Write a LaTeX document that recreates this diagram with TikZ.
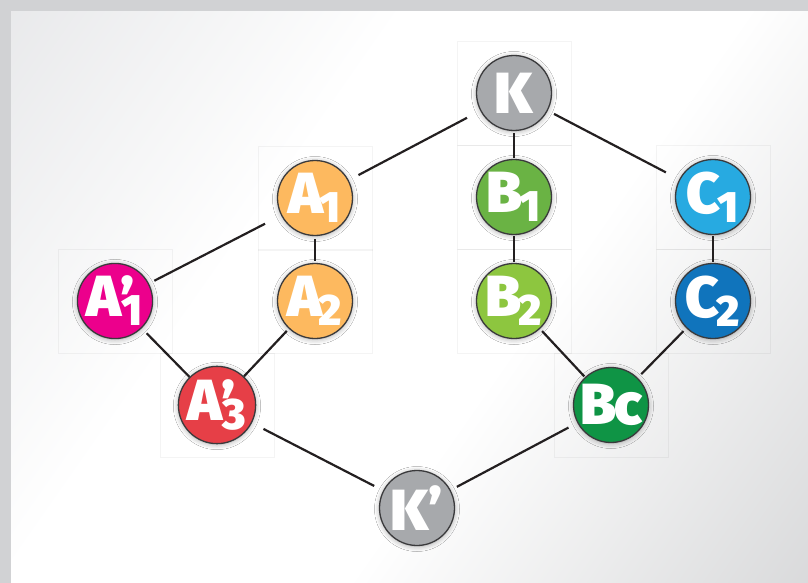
\documentclass[tikz,border=0pt]{standalone}
\usepackage{fontspec}
\setmainfont{Fira Sans}
\newfontfamily\lblfont{Fira Sans Black}
\usetikzlibrary{shadows.blur}

\definecolor{frame}{HTML}{D1D2D4}
\definecolor{bgA}{HTML}{DADBDE}
\definecolor{bgB}{HTML}{C4C5C7}
\definecolor{edgecol}{HTML}{231F20}
\definecolor{rimcol}{HTML}{3A3A3C}
\definecolor{kgray}{HTML}{A7A9AC}
\definecolor{aorange}{HTML}{FDB95F}
\definecolor{amagenta}{HTML}{EC008C}
\definecolor{ared}{HTML}{E63F47}
\definecolor{bgreenA}{HTML}{6AB344}
\definecolor{bgreenB}{HTML}{8DC63F}
\definecolor{cblueA}{HTML}{27AAE1}
\definecolor{cblueB}{HTML}{1074BC}
\definecolor{bcgreen}{HTML}{0F9445}

\pgfdeclarehorizontalshading{bgshade}{100bp}{%
  color(0bp)=(bgA); color(38bp)=(white); color(58bp)=(white); color(100bp)=(bgB)}

\newcommand\lowsub[1]{\raisebox{-9pt}{\fontsize{44}{44}\selectfont #1}}
\newcommand\primesub[1]{\rlap{\raisebox{-4pt}{’}}\kern1pt\lowsub{#1}}

\tikzset{
  vertex/.style={circle, minimum size=75pt, inner sep=0pt, draw=rimcol,
    line width=1.3pt, text=white,
    font=\lblfont\fontsize{58}{58}\selectfont,
    blur shadow={shadow xshift=0pt, shadow yshift=-1pt,
      shadow blur radius=5pt, shadow opacity=35}},
  link/.style={draw=edgecol, line width=2.2pt},
  cellbox/.style={draw=black, draw opacity=0.045, line width=0.6pt}
}

\begin{document}
\begin{tikzpicture}[x=1pt, y=-1pt]
  \useasboundingbox (0,0) rectangle (808,583);
  % outer frame and panel
  \fill[frame] (0,0) rectangle (808,583);
  \shade[shading=bgshade, shading angle=-35] (11,12) rectangle (808,583);

  % faint cells behind the vertices
  \foreach \cx/\cy in {514/93, 315/198, 315/301, 115/301, 217/405,
                       514/197, 514/301, 713/197, 713/301, 611/405}
    \draw[cellbox] (\cx-57,\cy-52) rectangle (\cx+57,\cy+52);

  % vertices
  \node[vertex, fill=kgray]    (K)   at (514,93)  {K};
  \node[vertex, fill=aorange]  (A1)  at (315,198) {A\kern-4pt\lowsub{1}};
  \node[vertex, fill=aorange]  (A2)  at (315,301) {A\kern-4pt\lowsub{2}};
  \node[vertex, fill=amagenta] (A1p) at (115,301) {A\kern-1pt\primesub{1}};
  \node[vertex, fill=ared]     (A3p) at (217,405) {A\kern-1pt\primesub{3}};
  \node[vertex, fill=bgreenA]  (B1)  at (514,197) {B\kern-3pt\lowsub{1}};
  \node[vertex, fill=bgreenB]  (B2)  at (514,301) {B\kern-3pt\lowsub{2}};
  \node[vertex, fill=cblueA]   (C1)  at (713,197) {C\kern-3pt\lowsub{1}};
  \node[vertex, fill=cblueB]   (C2)  at (713,301) {C\kern-3pt\lowsub{2}};
  \node[vertex, fill=bcgreen]  (Bc)  at (611,405) {B\kern-2pt c};
  \node[vertex, fill=kgray]    (Kp)  at (417,508) {K’};

  % connectors
  \draw[link, shorten <=15pt, shorten >=11pt] (K) -- (A1);
  \draw[link, shorten <=2pt,  shorten >=1pt]  (K) -- (B1);
  \draw[link, shorten <=7pt,  shorten >=15pt] (K) -- (C1);
  \draw[link, shorten <=18pt, shorten >=6pt]  (A1) -- (A1p);
  \draw[link, shorten <=3pt,  shorten >=2pt]  (A1) -- (A2);
  \draw[link, shorten <=7pt]                  (A1p) -- (A3p);
  \draw[link, shorten <=3pt]                  (A2) -- (A3p);
  \draw[link, shorten <=13pt, shorten >=10pt] (A3p) -- (Kp);
  \draw[link, shorten <=7pt,  shorten >=10pt] (Kp) -- (Bc);
  \draw[link, shorten <=1pt,  shorten >=1pt]  (B1) -- (B2);
  \draw[link, shorten <=3pt,  shorten >=1pt]  (B2) -- (Bc);
  \draw[link, shorten <=1pt,  shorten >=1pt]  (C1) -- (C2);
  \draw[link, shorten <=4pt,  shorten >=5pt]  (C2) -- (Bc);
\end{tikzpicture}
\end{document}
